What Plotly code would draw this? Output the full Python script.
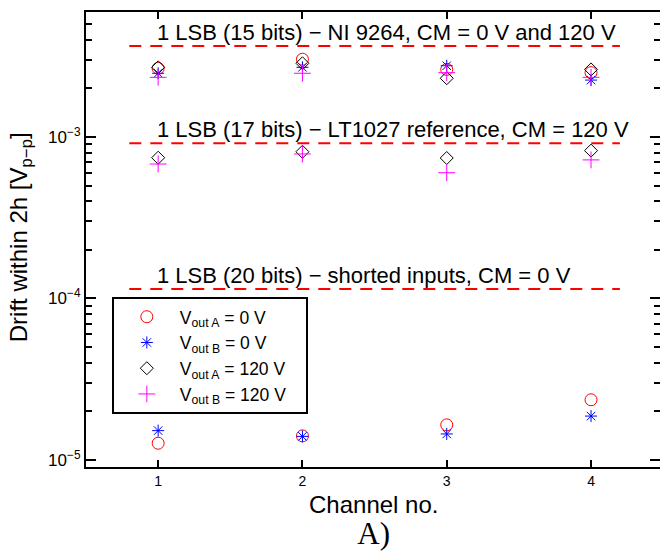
import plotly.graph_objects as go
import numpy as np

channels = [1, 2, 3, 4]
vA_0V = [2.66e-3, 3.03e-3, 2.62e-3, 2.50e-3]
vB_0V = [2.48e-3, 2.70e-3, 2.76e-3, 2.25e-3]
vA_120V = [2.70e-3, 2.86e-3, 2.31e-3, 2.62e-3]
vB_120V = [2.34e-3, 2.48e-3, 2.50e-3, 2.34e-3]

vA_120V_ref = [7.44e-4, 8.10e-4, 7.41e-4, 8.23e-4]
vB_120V_ref = [6.80e-4, 7.85e-4, 6.01e-4, 7.21e-4]

vA_0V_short = [1.27e-5, 1.41e-5, 1.65e-5, 2.36e-5]
vB_0V_short = [1.52e-5, 1.40e-5, 1.45e-5, 1.87e-5]

lsb_values = [120 / 2**15, 120 / 2**17, 120 / 2**20]
lsb_labels = ["1 LSB (15 bits) \u2212 NI 9264, CM = 0 V and 120 V",
              "1 LSB (17 bits) \u2212 LT1027 reference, CM = 120 V",
              "1 LSB (20 bits) \u2212 shorted inputs, CM = 0 V"]
lsb_x = [0.8, 4.2]

y_major = [1e-5, 1e-4, 1e-3]
y_major_text = ["10<sup>\u22125</sup>", "10<sup>\u22124</sup>", "10<sup>\u22123</sup>"]
y_minor = [m * 10.0**e for e in (-6, -5, -4, -3) for m in range(2, 10)]

FONT = "Liberation Sans, Arial, Helvetica, sans-serif"
SERIF = "Liberation Serif, Times New Roman, serif"
PAD = "\u00a0\u00a0\u00a0"

fig = go.Figure()

for v in lsb_values:
    fig.add_trace(go.Scatter(x=lsb_x, y=[v, v], mode="lines",
                             line=dict(color="#ff0000", width=2, dash="12px,9px"),
                             showlegend=False, hoverinfo="skip"))

fig.add_trace(go.Scatter(x=channels * 2, y=vA_0V + vA_0V_short, mode="markers",
                         name="V<sub>out A</sub> = 0 V" + PAD,
                         marker=dict(symbol="circle-open", size=12, color="#ff0000", line=dict(width=1))))
fig.add_trace(go.Scatter(x=channels * 2, y=vB_0V + vB_0V_short, mode="markers",
                         name="V<sub>out B</sub> = 0 V" + PAD,
                         marker=dict(symbol="asterisk-open", size=10, color="#0000ff", line=dict(width=1, color="#0000ff"))))
fig.add_trace(go.Scatter(x=channels * 2, y=vA_120V + vA_120V_ref, mode="markers",
                         name="V<sub>out A</sub> = 120 V" + PAD,
                         marker=dict(symbol="diamond-open", size=10, color="#000000", line=dict(width=1))))
fig.add_trace(go.Scatter(x=channels * 2, y=vB_120V + vB_120V_ref, mode="markers",
                         name="V<sub>out B</sub> = 120 V" + PAD,
                         marker=dict(symbol="cross-thin-open", size=12, color="#ff00ff", line=dict(width=1, color="#ff00ff"))))

# dummy trace for minor-tick overlay axis
fig.add_trace(go.Scatter(x=[None], y=[None], yaxis="y2", showlegend=False, hoverinfo="skip"))

for v, lab in zip(lsb_values, lsb_labels):
    fig.add_annotation(x=1, y=np.log10(v), xref="x", yref="y", text=lab, showarrow=False,
                       xanchor="left", yanchor="bottom", yshift=-1, xshift=-3,
                       font=dict(family=FONT, size=22, color="black"))

fig.add_annotation(x=-0.115, y=0.505, xref="paper", yref="paper", textangle=-90,
                   text="Drift within 2h [V<sub>p\u2212p</sub>]", showarrow=False,
                   xanchor="center", yanchor="middle",
                   font=dict(family=FONT, size=24, color="black"))
fig.add_annotation(x=0.5, y=-0.0484, xref="paper", yref="paper",
                   text="Channel no.<br><span style=\"font-family:" + SERIF + ";font-size:31px\">A)</span>",
                   showarrow=False, xanchor="center", yanchor="top",
                   font=dict(family=FONT, size=24, color="black"))

yrange = [np.log10(9.05e-6), np.log10(5.94e-3)]

fig.update_layout(
    width=660, height=551,
    margin=dict(l=86, r=0, t=12, b=84),
    paper_bgcolor="white", plot_bgcolor="white",
    font=dict(family=FONT, color="black"),
    legend=dict(x=0.045, y=0.374, xanchor="left", yanchor="top",
                bordercolor="black", borderwidth=2, bgcolor="white",
                font=dict(family=FONT, size=17.5, color="black"),
                tracegroupgap=0, itemwidth=56),
    yaxis2=dict(type="log", range=yrange, overlaying="y", side="left", anchor="x",
                tickvals=y_minor, ticks="inside", ticklen=6, tickwidth=1.5, tickcolor="black",
                showticklabels=False, showline=False, mirror="ticks", showgrid=False,
                zeroline=False, automargin=False),
)
fig.update_xaxes(range=[0.5, 4.478], tickvals=channels, ticktext=[str(c) for c in channels],
                 ticks="inside", ticklen=7, tickwidth=1.5, tickcolor="black",
                 showline=True, linewidth=2, linecolor="black",
                 mirror="ticks", showgrid=False, zeroline=False, automargin=False,
                 tickfont=dict(family=FONT, size=14, color="black"))
fig.layout.yaxis.update(type="log", range=yrange,
                        tickvals=y_major, ticktext=y_major_text,
                        ticks="inside", ticklen=10, tickwidth=1.5, tickcolor="black",
                        showline=True, linewidth=2, linecolor="black",
                        mirror="ticks", showgrid=False, zeroline=False, automargin=False,
                        tickfont=dict(family=FONT, size=17, color="black"))

fig.write_html("out.html", config={"displayModeBar": False},
               post_script="document.body.style.margin='0';document.body.style.overflow='hidden';")
